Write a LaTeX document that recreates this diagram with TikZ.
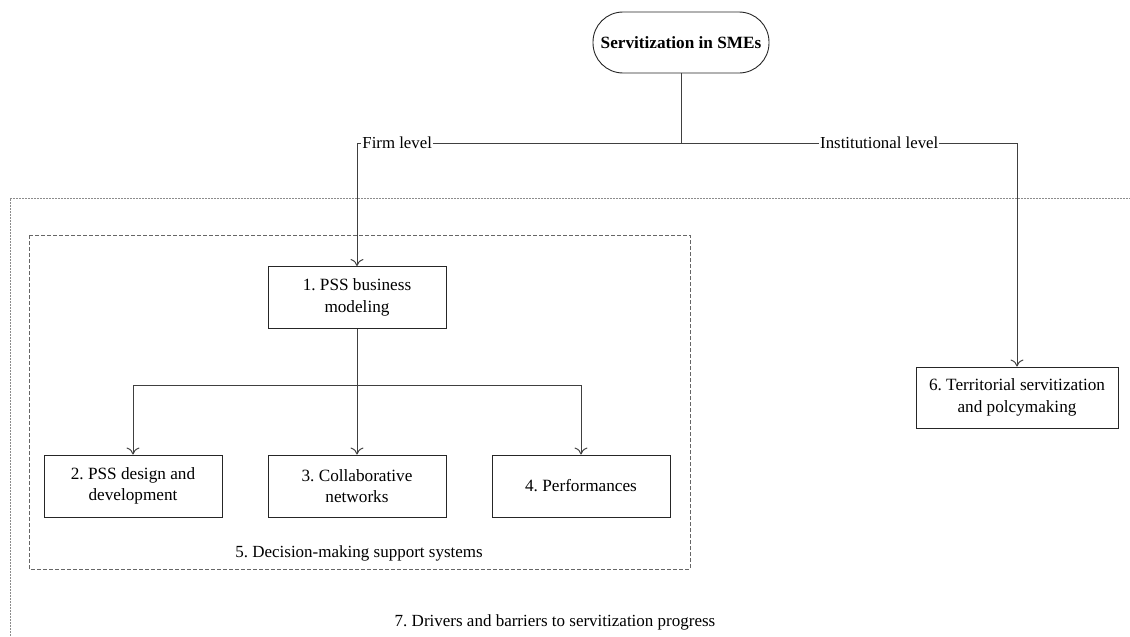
\documentclass[tikz,border=0pt]{standalone}
\usepackage{fontspec}
\setmainfont{Liberation Serif}
\usetikzlibrary{arrows.meta,calc}
\frenchspacing

\tikzset{
  box/.style={draw=black!85, line width=0.9pt, fill=white, align=center,
    minimum width=178, minimum height=62, inner sep=2pt,
    font=\fontsize{17.2}{21.5}\selectfont},
  topbox/.style={draw=black!85, line width=0.9pt, rounded corners=30,
    minimum width=176, minimum height=61, inner sep=2pt,
    font=\fontsize{17.2}{21.5}\selectfont\bfseries},
  link/.style={draw=black!75, line width=1pt},
  arrowlink/.style={link, -{To[length=7pt,width=13pt,line width=1pt]}},
  lvl/.style={fill=white, inner sep=1pt, font=\fontsize{16.8}{20}\selectfont},
  caption/.style={inner sep=0pt, font=\fontsize{17}{20}\selectfont},
  outerframe/.style={draw=black!45, line width=0.8pt, dash pattern=on 2pt off 1pt},
  innerframe/.style={draw=black!60, line width=0.8pt, dash pattern=on 4pt off 2pt}
}

\begin{document}
\begin{tikzpicture}[x=1pt, y=-1pt]
  \useasboundingbox (0,0) rectangle (1130,637);

  % frames
  \draw[outerframe] (1140,198) -- (10,198) -- (10,647);
  \draw[innerframe] (29,235) rectangle (690,569);
  \node[caption] (cap5) at (359,553) {5. Decision-making support systems};
  \node[caption] (cap7) at (555,622) {7. Drivers and barriers to servitization progress};

  % nodes
  \node[topbox] (top) at (681,42.5) {Servitization in SMEs};
  \node[box] (n1) at (357,297.5) {1. PSS business\\modeling};
  \node[box] (n2) at (133,486) {2. PSS design and\\development};
  \node[box] (n3) at (357,486) {3. Collaborative\\networks};
  \node[box] (n4) at (581,486) {4. Performances};
  \node[box, minimum width=202, minimum height=61] (n6) at (1017,397.5) {6. Territorial servitization\\and polcymaking};

  % junctions
  \coordinate (j) at (681,143);
  \coordinate (k) at (357,385);

  % connectors
  \draw[link] (top.south) -- (j);
  \draw[arrowlink] (j) -| node[lvl, pos=0.438] {Firm level} (n1.north);
  \draw[arrowlink] (j) -| node[lvl, pos=0.295] {Institutional level} (n6.north);
  \draw[link] (n1.south) -- (k);
  \draw[arrowlink] (k) -| (n2.north);
  \draw[arrowlink] (k) -- (n3.north);
  \draw[arrowlink] (k) -| (n4.north);
\end{tikzpicture}
\end{document}
